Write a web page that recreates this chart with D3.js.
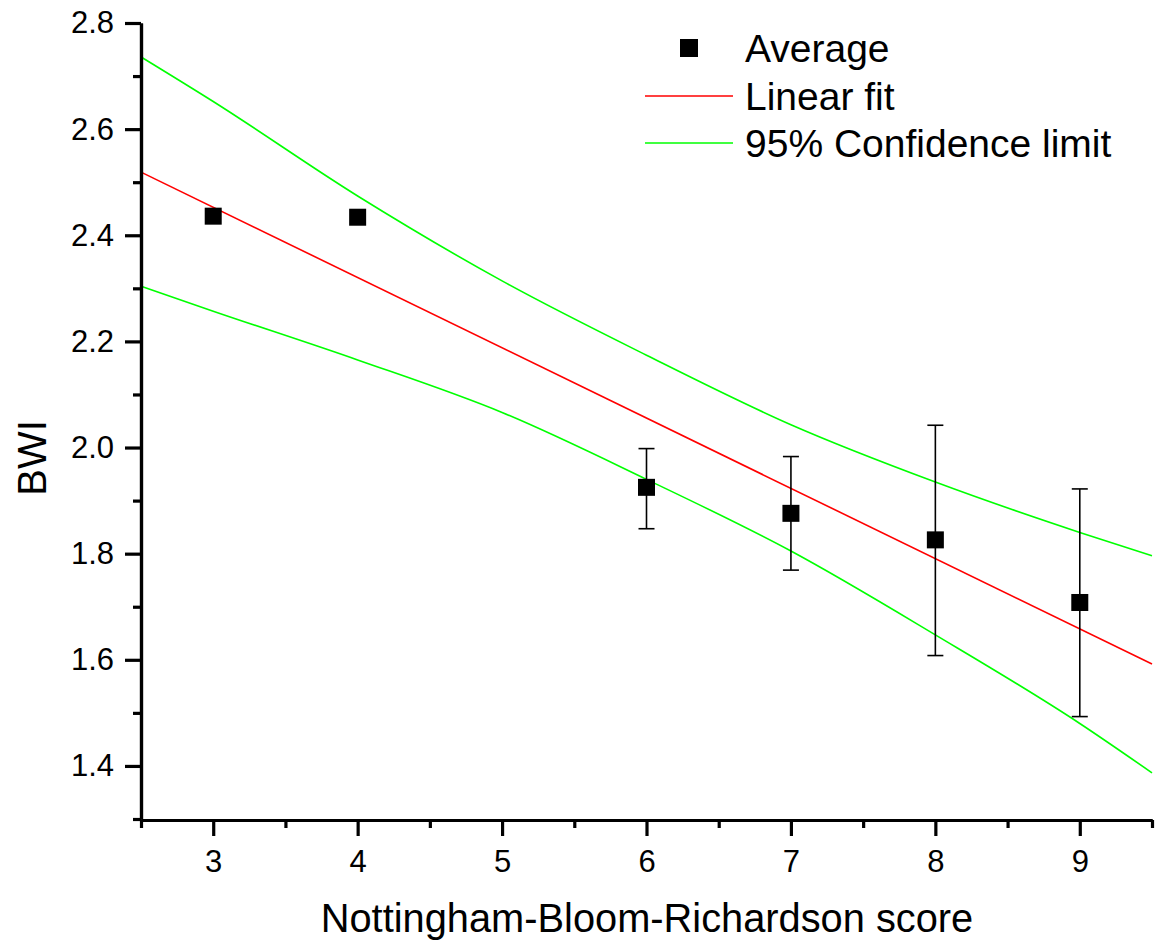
<html>
<head>
    <title>BWI vs Nottingham-Bloom-Richardson score</title>
    <script src="https://d3js.org/d3.v7.min.js"></script>
    <style>
        body { margin: 0; background: #fff; }
        text { font-family: Arial, "Liberation Sans", sans-serif; fill: #000; }
    </style>
</head>
<body>
    <svg id="chart" width="1158" height="943"></svg>

    <script>
    // averages with error bars
    const scores = [3, 4, 6, 7, 8, 9];
    const bwiMean = [2.436, 2.434, 1.925, 1.876, 1.826, 1.708];
    const errLow = [null, null, 1.847, 1.769, 1.608, 1.493];
    const errHigh = [null, null, 1.998, 1.983, 2.042, 1.922];

    // linear fit end points
    const fitX = [2.5, 9.5];
    const fitY = [2.519, 1.592];

    // 95% confidence limits
    const bandX = [2.5, 3, 4, 5, 6, 7, 8, 9, 9.5];
    const upperBand = [2.736, 2.652, 2.474, 2.314, 2.174, 2.043, 1.935, 1.840, 1.796];
    const lowerBand = [2.304, 2.257, 2.165, 2.066, 1.940, 1.805, 1.647, 1.480, 1.387];

    const xTicks = [3, 4, 5, 6, 7, 8, 9];
    const xMinor = [2.5, 3.5, 4.5, 5.5, 6.5, 7.5, 8.5, 9.5];
    const yTicks = [1.4, 1.6, 1.8, 2.0, 2.2, 2.4, 2.6, 2.8];
    const yMinor = [1.3, 1.5, 1.7, 1.9, 2.1, 2.3, 2.5, 2.7];

    const legendItems = ["Average", "Linear fit", "95% Confidence limit"];

    const svg = d3.select('#chart');
    const x = d3.scaleLinear().domain([2.5, 9.5]).range([141, 1152]);
    const y = d3.scaleLinear().domain([1.3, 2.8]).range([819, 23]);

    const line = d3.line().x(d => x(d[0])).y(d => y(d[1]));
    const curve = d3.line().x(d => x(d[0])).y(d => y(d[1])).curve(d3.curveMonotoneX);

    // confidence limits
    [upperBand, lowerBand].forEach(band => {
        svg.append('path')
            .datum(bandX.map((v, i) => [v, band[i]]))
            .attr('d', curve)
            .attr('fill', 'none')
            .attr('stroke', '#00ff00')
            .attr('stroke-width', 1.6);
    });

    // linear fit
    svg.append('path')
        .datum(fitX.map((v, i) => [v, fitY[i]]))
        .attr('d', line)
        .attr('fill', 'none')
        .attr('stroke', '#ff0000')
        .attr('stroke-width', 1.6);

    // error bars
    const bars = svg.append('g')
        .selectAll('g')
        .data(scores.map((s, i) => ({ s, lo: errLow[i], hi: errHigh[i] })).filter(d => d.lo !== null))
        .enter()
        .append('g')
        .attr('stroke', '#000')
        .attr('stroke-width', 1.6);
    bars.append('line')
        .attr('x1', d => x(d.s)).attr('x2', d => x(d.s))
        .attr('y1', d => y(d.lo)).attr('y2', d => y(d.hi));
    bars.append('line')
        .attr('x1', d => x(d.s) - 8).attr('x2', d => x(d.s) + 8)
        .attr('y1', d => y(d.hi)).attr('y2', d => y(d.hi));
    bars.append('line')
        .attr('x1', d => x(d.s) - 8).attr('x2', d => x(d.s) + 8)
        .attr('y1', d => y(d.lo)).attr('y2', d => y(d.lo));

    // average markers
    const size = 17;
    svg.append('g')
        .selectAll('rect')
        .data(scores.map((s, i) => [s, bwiMean[i]]))
        .enter()
        .append('rect')
        .attr('x', d => x(d[0]) - size / 2)
        .attr('y', d => y(d[1]) - size / 2)
        .attr('width', size)
        .attr('height', size)
        .attr('fill', '#000');

    // axes
    function styleAxis(g) {
        g.select('.domain').attr('stroke', '#000').attr('stroke-width', 3.2);
        g.selectAll('.tick line').attr('stroke', '#000').attr('stroke-width', 3.2);
        g.selectAll('text').style('font-size', '31px').attr('font-family', 'Arial, "Liberation Sans", sans-serif');
    }

    svg.append('g')
        .attr('transform', 'translate(0,820)')
        .call(d3.axisBottom(x).tickValues(xMinor).tickSize(8).tickSizeOuter(0).tickFormat(''))
        .call(styleAxis);
    svg.append('g')
        .attr('transform', 'translate(0,820)')
        .call(d3.axisBottom(x).tickValues(xTicks).tickSize(16).tickSizeOuter(0).tickPadding(14).tickFormat(d3.format('d')))
        .call(styleAxis);

    svg.append('g')
        .attr('transform', 'translate(141,0)')
        .call(d3.axisLeft(y).tickValues(yMinor).tickSize(8).tickSizeOuter(0).tickFormat(''))
        .call(styleAxis);
    svg.append('g')
        .attr('transform', 'translate(141,0)')
        .call(d3.axisLeft(y).tickValues(yTicks).tickSize(16).tickSizeOuter(0).tickPadding(11).tickFormat(d3.format('.1f')))
        .call(styleAxis);

    // axis titles
    svg.append('text')
        .attr('x', 647)
        .attr('y', 932)
        .attr('text-anchor', 'middle')
        .style('font-size', '39.8px')
        .text('Nottingham-Bloom-Richardson score');

    svg.append('text')
        .attr('transform', 'translate(46,458) rotate(-90)')
        .attr('text-anchor', 'middle')
        .style('font-size', '40px')
        .text('BWI');

    // legend
    const legend = svg.append('g');
    legend.append('rect')
        .attr('x', 689 - 9).attr('y', 48 - 9)
        .attr('width', 18).attr('height', 18)
        .attr('fill', '#000');
    legend.append('line')
        .attr('x1', 645).attr('x2', 733).attr('y1', 96).attr('y2', 96)
        .attr('stroke', '#ff0000').attr('stroke-width', 1.6);
    legend.append('line')
        .attr('x1', 645).attr('x2', 733).attr('y1', 143).attr('y2', 143)
        .attr('stroke', '#00ff00').attr('stroke-width', 1.6);
    legend.selectAll('text')
        .data(legendItems)
        .enter()
        .append('text')
        .attr('x', 745)
        .attr('y', (d, i) => 62 + i * 47.5)
        .style('font-size', '39px')
        .text(d => d);
    </script>
</body>
</html>
